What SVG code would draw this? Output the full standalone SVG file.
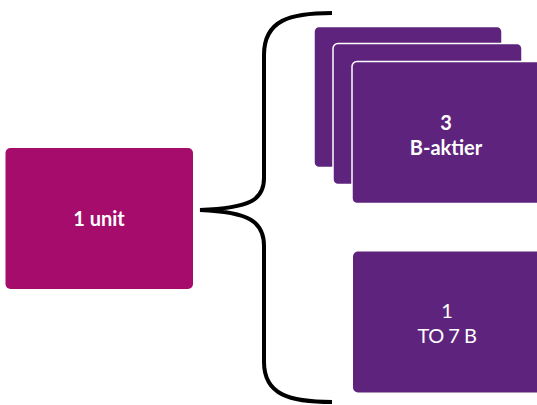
<svg xmlns="http://www.w3.org/2000/svg" width="537" height="405" viewBox="0 0 537 405">
  <style>
    .unit { fill: #A50C6B; }
    .share { fill: #5E237D; stroke: #ffffff; stroke-width: 1.5; }
    .lbl { fill: #ffffff; font-family: Lato, "Open Sans", sans-serif; font-size: 20px; text-anchor: middle; }
    .b { font-weight: 700; }
    .brace { fill: none; stroke: #000000; stroke-width: 4; stroke-linecap: butt; }
  </style>
  <rect width="537" height="405" fill="#ffffff"/>

  <g id="connectors">
    <path class="brace" d="M332,13 C290,13 264,20 264,55 L264,178 C264,200 250,208 200,210 C250,212 264,222 264,246 L264,362 C264,395 290,402 332,402"/>
  </g>

  <g id="unit">
    <rect class="unit" x="5.5" y="148" width="187.5" height="141" rx="5"/>
    <text class="lbl b" x="99" y="226">1 unit</text>
  </g>

  <g id="b-shares">
    <rect class="share" x="314" y="26.5" width="188" height="141" rx="5"/>
    <rect class="share" x="333" y="43.5" width="189" height="141" rx="5"/>
    <rect class="share" x="352" y="61.5" width="192" height="142" rx="5"/>
    <text class="lbl b" x="446" y="130">3</text>
    <text class="lbl b" x="446" y="155">B-aktier</text>
  </g>

  <g id="to7b">
    <rect x="353" y="251.5" width="190" height="141" rx="5" fill="#5E237D"/>
    <text class="lbl" x="447" y="318">1</text>
    <text class="lbl" x="447" y="343" letter-spacing="-0.5">TO 7 B</text>
  </g>
</svg>
